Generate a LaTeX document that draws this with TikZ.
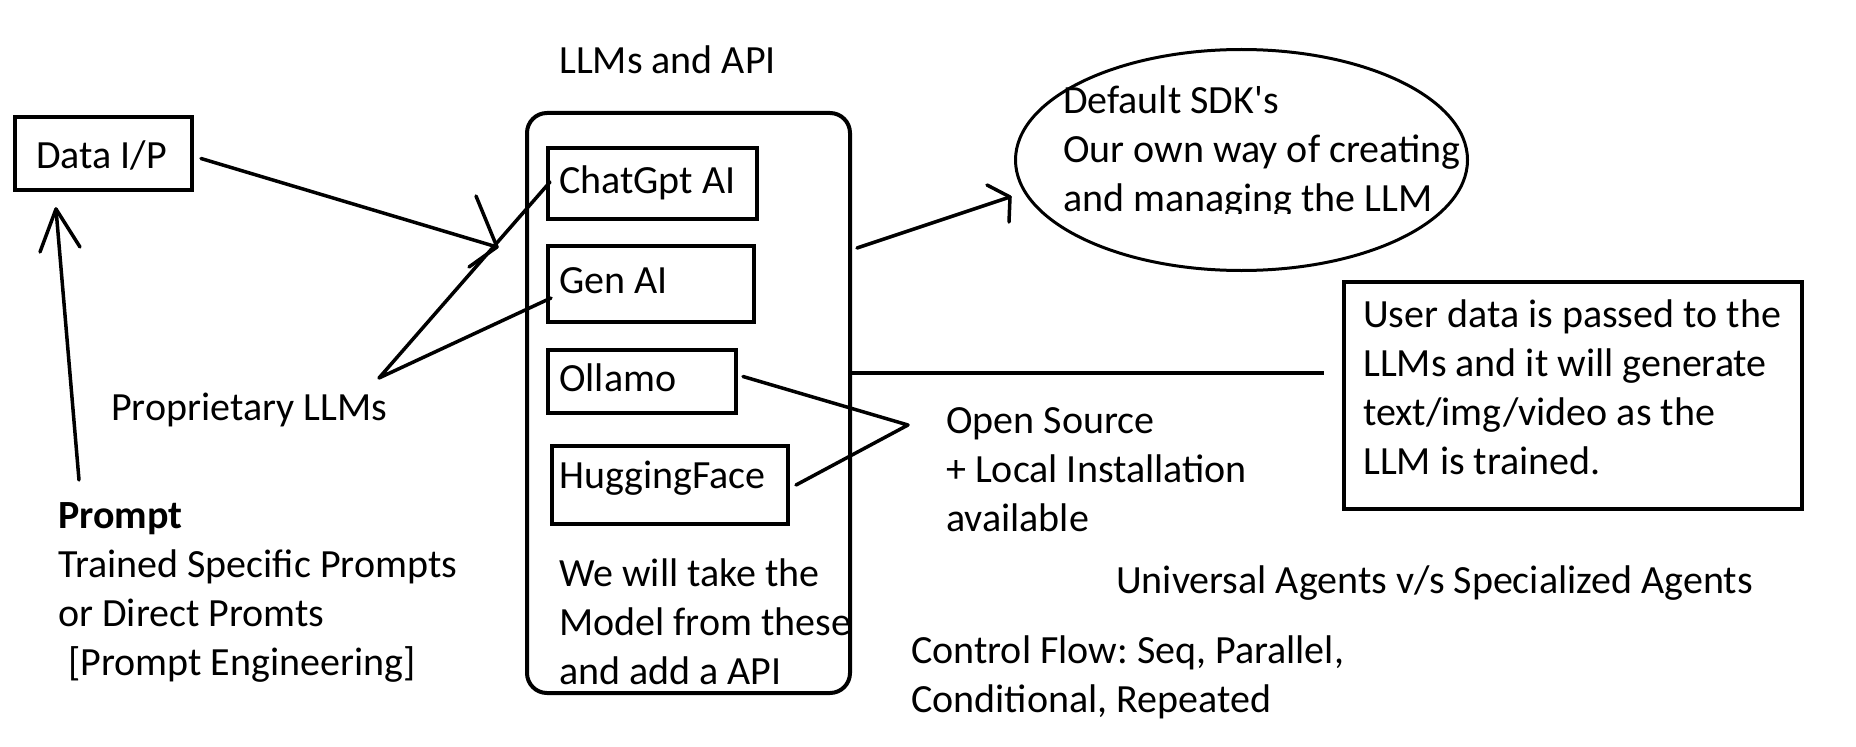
\documentclass[tikz,border=0pt]{standalone}
\usepackage{fontspec}
\setmainfont{Carlito}[Ligatures=TeXOff]
\usetikzlibrary{shapes.geometric,calc}
\frenchspacing
\newcommand\twolines[2]{\vtop{\hbox{#1}\hbox{#2}}}
\newcommand\threelines[3]{\vtop{\hbox{#1}\hbox{#2}\hbox{#3}}}
\newcommand\fourlines[4]{\vtop{\hbox{#1}\hbox{#2}\hbox{#3}\hbox{#4}}}
\begin{document}
\begin{tikzpicture}[x=1bp,y=-1bp,
  txt/.style={inner sep=0pt, anchor=base west, font=\fontsize{40bp}{49bp}\selectfont},
  boxd/.style={draw, line width=4bp, inner sep=0pt},
  ln/.style={line width=3.5bp, line cap=round, line join=round},
]
\useasboundingbox (0,0) rectangle (1856,747);
\fill[white] (0,0) rectangle (1856,747);

% boxes
\node[boxd, minimum width=177bp, minimum height=73bp] (data) at (103.5,153.5) {};
\node[boxd, rounded corners=20bp, minimum width=323bp, minimum height=580bp] (big) at (688.5,403) {};
\node[boxd, minimum width=209bp, minimum height=71bp] (chat) at (652.5,183.5) {};
\node[boxd, minimum width=206bp, minimum height=76bp] (gen) at (651,284) {};
\node[boxd, minimum width=188bp, minimum height=63bp] (oll) at (642,381.5) {};
\node[boxd, minimum width=236bp, minimum height=78bp] (hug) at (670,485) {};
\node[boxd, minimum width=458bp, minimum height=227bp] (user) at (1573,395.5) {};
\node[draw, ellipse, line width=3bp, inner sep=0pt, minimum width=452bp, minimum height=221bp] (sdk) at (1241.5,160) {};

% texts
\node[txt] (llmT) at (559,74) {LLMs and API};
\node[txt] (dataT) at (36,168) {Data I/P};
\node[txt] (chatT) at (559,193) {ChatGpt AI};
\node[txt] (genT) at (559,293) {Gen AI};
\node[txt] (ollT) at (559,391) {Ollamo};
\node[txt] (hugT) at (559,488) {HuggingFace};
\node[txt] (takeT) at (559,586) {\threelines{We will take the}{Model from these}{and add a API}};
\node[txt] (propT) at (111,420) {Proprietary LLMs};
\node[txt] (promptT) at (58,528) {\fourlines{\textbf{Prompt}}{Trained Specific Prompts}{or Direct Promts}{\hspace*{10bp}[Prompt Engineering]}};
\node[txt] (openT) at (946,433) {\threelines{Open Source}{+ Local Installation}{available}};
\node[txt] (univT) at (1116,593) {Universal Agents v/s Specialized Agents};
\node[txt] (ctrlT) at (911,663) {\twolines{Control Flow: Seq, Parallel,}{Conditional, Repeated}};
\node[txt] (userT) at (1363,327) {\fourlines{User data is passed to the}{LLMs and it will generate}{text/img/video as the}{LLM is trained.}};
\begin{scope}
\clip (1000,0) rectangle (1500,213);
\node[txt] (sdkT) at (1063,113) {\threelines{Default SDK's}{Our own way of creating}{and managing the LLM}};
\end{scope}

% connectors
\coordinate (dtip) at (497,247);
\draw[ln] ($(data.east)+(7,5)$) -- (dtip);
\draw[ln] (476,196) -- (dtip) -- (469,267);

\coordinate (ubase) at (79,480);
\coordinate (utip) at (56,209);
\draw[ln] (ubase) -- (utip);
\draw[ln] (40,252) -- (utip) -- (80,247);

\coordinate (papex) at (379,378);
\draw[ln] ($(chat.west)+(4,-1.5)$) -- (papex) -- ($(gen.west)+(5,14)$);

\coordinate (etail) at (857,248);
\coordinate (etip) at (1010,197);
\draw[ln] (etail) -- (etip);
\draw[ln] (987,185) -- (etip) -- (1009,222);

\coordinate (oapex) at (908,425);
\draw[ln] ($(oll.east)+(5,-5)$) -- (oapex) -- ($(hug.east)+(6,0)$);

\coordinate (hend) at (1324,373);
\draw[line width=4bp] ($(big.east)+(0,-30)$) -- (hend);
\end{tikzpicture}
\end{document}
